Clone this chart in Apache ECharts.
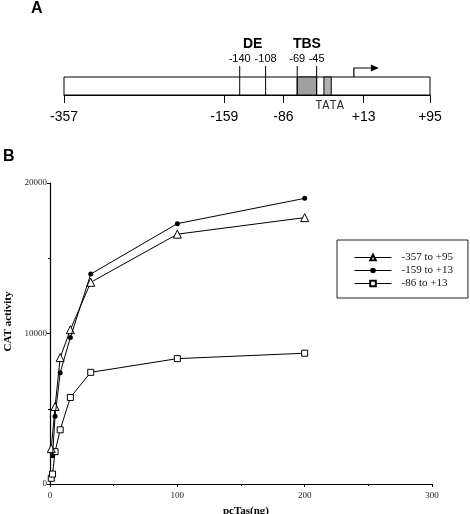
<!DOCTYPE html>
<html>
<head>
<meta charset="utf-8">
<script src="https://cdn.jsdelivr.net/npm/echarts@6/dist/echarts.min.js"></script>
<style>
  html, body { margin: 0; padding: 0; background: #fff; }
  #chart { width: 470px; height: 514px; }
</style>
</head>
<body>
<div id="chart"></div>
<script>
// panel A: promoter map (positions relative to start site)
const promoterEnds = [-357, 95];
const siteMarks = [-140, -108, -69, -45];
const tbsRange = [-69, -45];
const tataRange = [-36, -27];
const tssPos = 1;
const mapTicks = [-357, -159, -86, 13, 95];
const elementTags = [['DE', -140, -108], ['TBS', -69, -45]];

// panel B: CAT activity vs pcTas dose
const seriesNames = ['-357 to +95', '-159 to +13', '-86 to +13'];
const doseA = [1, 4, 8, 16, 32, 100, 200];
const catA = [2350, 5150, 8400, 10250, 13400, 16600, 17700];
const doseB = [2, 4, 8, 16, 32, 100, 200];
const catB = [1880, 4500, 7400, 9730, 13950, 17300, 18980];
const doseC = [1, 2, 4, 8, 16, 32, 100, 200];
const catC = [380, 660, 2150, 3600, 5750, 7420, 8330, 8690];
const xTicks = [0, 100, 200, 300];
const yTicks = [0, 10000, 20000];

const pairs = (xs, ys) => xs.map((x, i) => [x, ys[i]]);
const serif = 'Liberation Serif';
const sans = 'Liberation Sans';

let myChart = echarts.init(document.getElementById('chart'));

myChart.setOption({
  animation: false,
  backgroundColor: '#fff',
  graphic: [
    { type: 'text', left: 31, top: 1, style: { text: 'A', font: 'bold 16px ' + sans, fill: '#000' } },
    { type: 'text', left: 3, top: 149, style: { text: 'B', font: 'bold 16px ' + sans, fill: '#000' } }
  ],
  grid: [
    { left: 50, right: 38, top: 183, bottom: 30, containLabel: false, outerBoundsMode: 'none' },
    { left: 64, width: 366, top: 77, height: 18, containLabel: false, outerBoundsMode: 'none' }
  ],
  legend: {
    orient: 'vertical',
    left: 337,
    top: 240,
    data: seriesNames,
    itemWidth: 37,
    itemHeight: 7,
    itemGap: 0,
    padding: [11, 15, 8, 17],
    borderColor: '#222',
    borderWidth: 1,
    borderRadius: 0,
    lineStyle: { width: 1 },
    textStyle: {
      fontFamily: serif,
      fontSize: 11,
      color: '#111',
      lineHeight: 13,
      padding: [0, 0, 0, 5]
    }
  },
  xAxis: [
    {
      type: 'value',
      gridIndex: 0,
      min: 0,
      max: 300,
      interval: 100,
      name: 'pcTas(ng)',
      nameLocation: 'middle',
      nameGap: 22,
      nameTextStyle: { fontFamily: serif, fontWeight: 'bold', fontSize: 11, color: '#000', padding: [0, 0, 0, 10] },
      axisLine: { lineStyle: { color: '#000', width: 1.2 } },
      axisTick: { length: 3, lineStyle: { color: '#000' } },
      minorTick: { show: true, splitNumber: 2, length: 2, lineStyle: { color: '#000' } },
      axisLabel: {
        margin: 7,
        fontFamily: serif,
        fontSize: 9,
        color: '#222',
        customValues: xTicks
      },
      splitLine: { show: false }
    },
    {
      type: 'value',
      gridIndex: 1,
      min: promoterEnds[0],
      max: promoterEnds[1],
      axisLine: { show: true, lineStyle: { color: '#000', width: 1 } },
      axisTick: { customValues: mapTicks, length: 8, lineStyle: { color: '#000' } },
      axisLabel: {
        customValues: mapTicks,
        margin: 15,
        fontFamily: sans,
        fontSize: 14,
        color: '#000',
        formatter: v => (v > 0 ? '+' + v : '' + v)
      },
      splitLine: { show: false }
    }
  ],
  yAxis: [
    {
      type: 'value',
      gridIndex: 0,
      min: 0,
      max: 20000,
      interval: 10000,
      name: 'CAT activity',
      nameLocation: 'middle',
      nameGap: 34,
      nameTextStyle: { fontFamily: serif, fontWeight: 'bold', fontSize: 11, color: '#000', padding: [0, 0, 0, 24] },
      axisLine: { show: true, lineStyle: { color: '#000', width: 1.2 } },
      axisTick: { show: true, length: 3, lineStyle: { color: '#000' } },
      minorTick: { show: true, splitNumber: 2, length: 2, lineStyle: { color: '#000' } },
      axisLabel: {
        margin: 3,
        fontFamily: serif,
        fontSize: 9,
        color: '#222',
        customValues: yTicks,
        formatter: v => String(v)
      },
      splitLine: { show: false }
    },
    { type: 'value', gridIndex: 1, min: 0, max: 1, show: false }
  ],
  series: [
    {
      name: seriesNames[2],
      type: 'line',
      xAxisIndex: 0,
      yAxisIndex: 0,
      data: pairs(doseC, catC),
      symbol: 'rect',
      symbolSize: 6,
      lineStyle: { color: '#000', width: 1 },
      itemStyle: { color: '#fff', borderColor: '#000', borderWidth: 1 },
      z: 3
    },
    {
      name: seriesNames[0],
      type: 'line',
      xAxisIndex: 0,
      yAxisIndex: 0,
      data: pairs(doseA, catA),
      symbol: 'triangle',
      symbolSize: 8,
      lineStyle: { color: '#000', width: 1 },
      itemStyle: { color: '#fff', borderColor: '#000', borderWidth: 1 },
      z: 4
    },
    {
      name: seriesNames[1],
      type: 'line',
      xAxisIndex: 0,
      yAxisIndex: 0,
      data: pairs(doseB, catB),
      symbol: 'circle',
      symbolSize: 5,
      lineStyle: { color: '#000', width: 1 },
      itemStyle: { color: '#000', borderColor: '#000', borderWidth: 0 },
      z: 5
    },
    // promoter bar outline
    {
      type: 'custom',
      xAxisIndex: 1,
      yAxisIndex: 1,
      silent: true,
      data: [promoterEnds],
      renderItem: (params, api) => {
        const a = api.coord([api.value(0), 1]);
        const b = api.coord([api.value(1), 0]);
        return {
          type: 'rect',
          shape: { x: a[0], y: a[1], width: b[0] - a[0], height: b[1] - a[1] },
          style: { fill: '#fff', stroke: '#000', lineWidth: 1 }
        };
      },
      z: 1
    },
    // TBS and TATA boxes
    {
      type: 'custom',
      xAxisIndex: 1,
      yAxisIndex: 1,
      silent: true,
      data: [[tbsRange[0], tbsRange[1], 0], [tataRange[0], tataRange[1], 1]],
      renderItem: (params, api) => {
        const a = api.coord([api.value(0), 1]);
        const b = api.coord([api.value(1), 0]);
        const tata = api.value(2) === 1;
        const children = [{
          type: 'rect',
          shape: { x: a[0], y: a[1], width: b[0] - a[0], height: b[1] - a[1] },
          style: { fill: tata ? '#b0b0b0' : '#a0a0a0', stroke: '#000', lineWidth: 1 }
        }];
        if (tata) {
          children.push({
            type: 'text',
            style: {
              text: 'TATA', x: (a[0] + b[0]) / 2 + 2, y: b[1] + 5,
              font: '12px "Liberation Mono"', fill: '#333',
              align: 'center', verticalAlign: 'top'
            }
          });
        }
        return { type: 'group', children: children };
      },
      z: 2
    },
    // site marks with labels
    {
      type: 'custom',
      xAxisIndex: 1,
      yAxisIndex: 1,
      silent: true,
      data: siteMarks.map(v => [v]),
      renderItem: (params, api) => {
        const top = api.coord([api.value(0), 1]);
        const bot = api.coord([api.value(0), 0]);
        return {
          type: 'group',
          children: [
            {
              type: 'line',
              shape: { x1: top[0], y1: top[1] - 11, x2: bot[0], y2: bot[1] },
              style: { stroke: '#000', lineWidth: 1 }
            },
            {
              type: 'text',
              style: {
                text: String(api.value(0)), x: top[0], y: top[1] - 18,
                font: '11px ' + sans, fill: '#000', align: 'center', verticalAlign: 'middle'
              }
            }
          ]
        };
      },
      z: 3
    },
    // element names
    {
      type: 'custom',
      xAxisIndex: 1,
      yAxisIndex: 1,
      silent: true,
      data: elementTags.map(t => [t[1], t[2]]),
      renderItem: (params, api) => {
        const tag = elementTags[params.dataIndex][0];
        const a = api.coord([api.value(0), 1]);
        const b = api.coord([api.value(1), 1]);
        return {
          type: 'text',
          style: {
            text: tag, x: (a[0] + b[0]) / 2, y: a[1] - 33,
            font: 'bold 14px ' + sans, fill: '#000', align: 'center', verticalAlign: 'middle'
          }
        };
      },
      z: 3
    },
    // transcription start arrow
    {
      type: 'custom',
      xAxisIndex: 1,
      yAxisIndex: 1,
      silent: true,
      data: [[tssPos]],
      renderItem: (params, api) => {
        const p = api.coord([api.value(0), 1]);
        const yTop = p[1] - 9;
        const xEnd = p[0] + 25;
        return {
          type: 'group',
          children: [
            {
              type: 'polyline',
              shape: { points: [[p[0], p[1]], [p[0], yTop], [xEnd - 7, yTop]] },
              style: { stroke: '#000', lineWidth: 1.2, fill: null }
            },
            {
              type: 'polygon',
              shape: { points: [[xEnd - 8, yTop - 3.5], [xEnd, yTop], [xEnd - 8, yTop + 3.5]] },
              style: { fill: '#000' }
            }
          ]
        };
      },
      z: 3
    }
  ]
});
</script>
</body>
</html>
